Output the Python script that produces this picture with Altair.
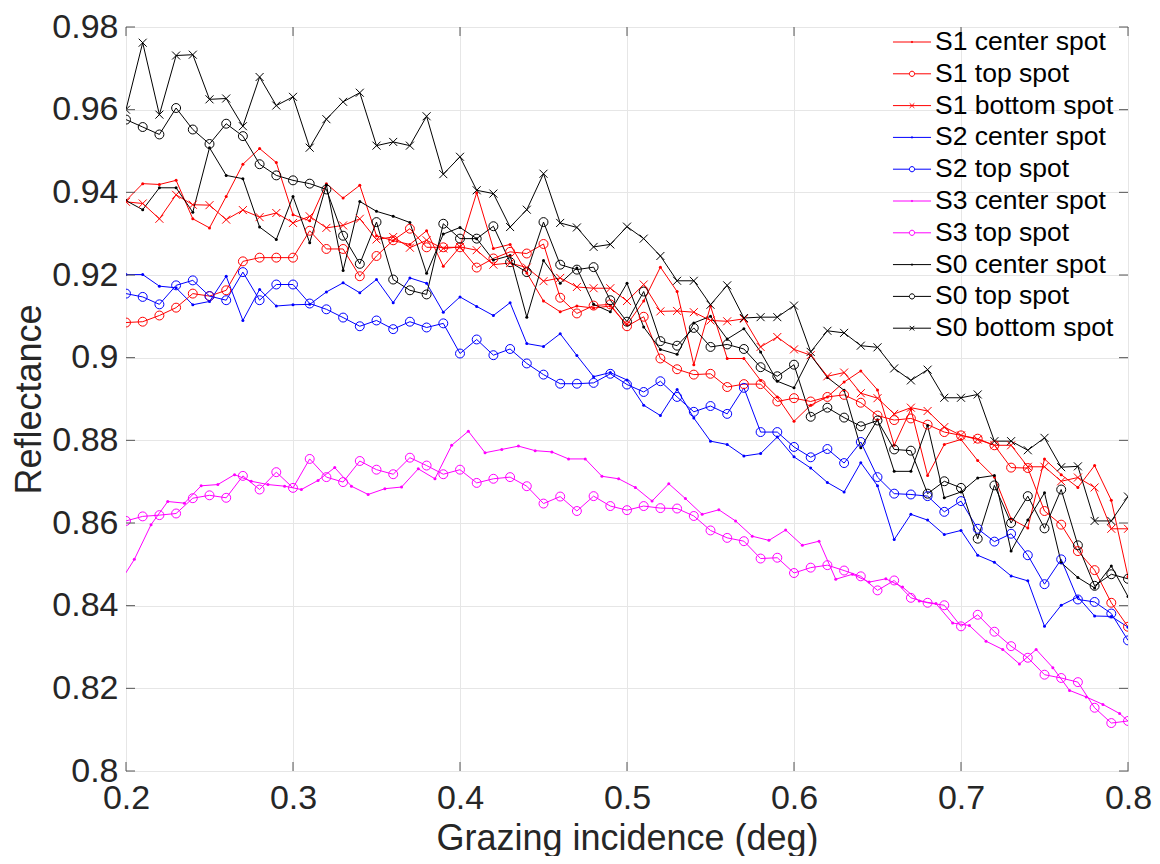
import altair as alt
import pandas as pd

# ---------------- data ----------------
x_grid = [round(0.20 + 0.01 * k, 3) for k in range(61)]
x_half = [round(0.195 + 0.01 * j, 3) for j in range(62)]

series_names = ["S1 center spot", "S1 top spot", "S1 bottom spot",
                "S2 center spot", "S2 top spot",
                "S3 center spot", "S3 top spot",
                "S0 center spot", "S0 top spot", "S0 bottom spot"]
series_colors = ["#ff0000", "#ff0000", "#ff0000",
                 "#0000ff", "#0000ff",
                 "#ff00ff", "#ff00ff",
                 "#000000", "#000000", "#000000"]
series_markers = ["dot", "circle", "x", "dot", "circle",
                  "dot", "circle", "dot", "circle", "x"]

s1_center = [0.938, 0.9421, 0.9419, 0.9429, 0.9336, 0.9314, 0.9390, 0.9468, 0.9506, 0.9472,
             0.9346, 0.9331, 0.9421, 0.9386, 0.9417, 0.9295, 0.9283, 0.9274, 0.9307, 0.9221,
             0.9268, 0.9399, 0.9264, 0.9274, 0.9205, 0.9137, 0.9111, 0.9125, 0.9120, 0.9125,
             0.9080, 0.9137, 0.9219, 0.9160, 0.8983, 0.9125, 0.8998, 0.8998, 0.8945, 0.8905,
             0.8846, 0.8885, 0.8905, 0.8941, 0.8968, 0.8922, 0.8788, 0.8875, 0.8715, 0.8790,
             0.8802, 0.8751, 0.8711, 0.8610, 0.8588, 0.8755, 0.8717, 0.8686, 0.8739, 0.8655,
             0.8470]
s1_top = [0.9085, 0.9087, 0.9102, 0.9121, 0.9155, 0.9149, 0.9163, 0.9233, 0.9242, 0.9242,
          0.9242, 0.9307, 0.9263, 0.9263, 0.9197, 0.9246, 0.9284, 0.9312, 0.9267, 0.9267,
          0.9267, 0.9218, 0.9240, 0.9256, 0.9252, 0.9275, 0.9145, 0.9107, 0.9126, 0.9129,
          0.9076, 0.9099, 0.8998, 0.8972, 0.8959, 0.8961, 0.8929, 0.8936, 0.8936, 0.8894,
          0.8902, 0.8894, 0.8905, 0.8910, 0.8891, 0.8860, 0.8849, 0.8853, 0.8838, 0.8820,
          0.8812, 0.8804, 0.8788, 0.8734, 0.8733, 0.8629, 0.8596, 0.8532, 0.8486, 0.8407,
          0.8349]
s1_bottom = [0.9377, 0.9373, 0.9336, 0.9394, 0.9370, 0.9369, 0.9334, 0.9357, 0.9340, 0.9350,
             0.9326, 0.9342, 0.9314, 0.9320, 0.9336, 0.9286, 0.9292, 0.9266, 0.9284, 0.9264,
             0.9268, 0.9260, 0.9225, 0.9229, 0.9218, 0.9185, 0.9193, 0.9171, 0.9168, 0.9168,
             0.9137, 0.9177, 0.9112, 0.9113, 0.9110, 0.9090, 0.9088, 0.9094, 0.9026, 0.9050,
             0.9020, 0.9006, 0.8955, 0.8964, 0.8914, 0.8902, 0.8864, 0.8879, 0.8871, 0.8832,
             0.8812, 0.8802, 0.8788, 0.8788, 0.8736, 0.8736, 0.8701, 0.8710, 0.8686, 0.8586,
             0.8586]
s2_center = [0.9201, 0.9201, 0.9173, 0.9169, 0.9128, 0.9136, 0.9197, 0.9090, 0.9165, 0.9125,
             0.9128, 0.9129, 0.9159, 0.9181, 0.9157, 0.9189, 0.9133, 0.9193, 0.9180, 0.9110,
             0.9147, 0.9124, 0.9102, 0.9133, 0.9034, 0.9027, 0.9058, 0.9005, 0.8954, 0.8964,
             0.8946, 0.8885, 0.8860, 0.8923, 0.8854, 0.8798, 0.8790, 0.8762, 0.8768, 0.8808,
             0.8760, 0.8733, 0.8698, 0.8675, 0.8746, 0.8690, 0.8560, 0.8621, 0.8607, 0.8572,
             0.8582, 0.8522, 0.8505, 0.8472, 0.8460, 0.8350, 0.8401, 0.8421, 0.8375, 0.8374,
             0.8348]
s2_top = [0.9155, 0.9147, 0.9129, 0.9175, 0.9187, 0.9149, 0.9139, 0.9207, 0.9139, 0.9177,
          0.9177, 0.9131, 0.9117, 0.9097, 0.9076, 0.9090, 0.9069, 0.9087, 0.9073, 0.9083,
          0.9010, 0.9044, 0.9006, 0.9021, 0.8986, 0.8959, 0.8937, 0.8937, 0.8939, 0.8961,
          0.8935, 0.8917, 0.8943, 0.8905, 0.8869, 0.8883, 0.8864, 0.8927, 0.8820, 0.8820,
          0.8784, 0.8759, 0.8779, 0.8745, 0.8796, 0.8711, 0.8671, 0.8669, 0.8665, 0.8627,
          0.8653, 0.8586, 0.8555, 0.8574, 0.8522, 0.8452, 0.8512, 0.8415, 0.8409, 0.8381,
          0.8316]
s3_center = [0.8448, 0.8512, 0.8596, 0.8652, 0.8648, 0.8690, 0.8693, 0.8717, 0.8701, 0.8693,
             0.8689, 0.8681, 0.8703, 0.8734, 0.8689, 0.8669, 0.8683, 0.8687, 0.8731, 0.8707,
             0.8788, 0.8822, 0.8770, 0.8778, 0.8786, 0.8775, 0.8772, 0.8755, 0.8755, 0.8713,
             0.8707, 0.8686, 0.8653, 0.8695, 0.8659, 0.8621, 0.8632, 0.8605, 0.8568, 0.8558,
             0.8583, 0.8546, 0.8556, 0.8464, 0.8476, 0.8457, 0.8465, 0.8445, 0.8411, 0.8405,
             0.8358, 0.8352, 0.8314, 0.8294, 0.8259, 0.8294, 0.8250, 0.8195, 0.8179, 0.8161,
             0.8139, 0.8103]
s3_top = [0.8605, 0.8616, 0.8619, 0.8623, 0.8660, 0.8667, 0.8661, 0.8714, 0.8681, 0.8723,
          0.8685, 0.8755, 0.8711, 0.8699, 0.8750, 0.8729, 0.8718, 0.8758, 0.8739, 0.8718,
          0.8729, 0.8697, 0.8707, 0.8711, 0.8689, 0.8647, 0.8664, 0.8629, 0.8665, 0.8641,
          0.8631, 0.8641, 0.8636, 0.8635, 0.8617, 0.8582, 0.8564, 0.8556, 0.8514, 0.8516,
          0.8479, 0.8492, 0.8498, 0.8485, 0.8471, 0.8437, 0.8461, 0.8419, 0.8407, 0.8401,
          0.8350, 0.8378, 0.8337, 0.8302, 0.8274, 0.8233, 0.8225, 0.8215, 0.8153, 0.8116,
          0.8121]
s0_center = [0.938, 0.9358, 0.9411, 0.9411, 0.9352, 0.9508, 0.9441, 0.9433, 0.9316, 0.9286,
             0.9390, 0.9278, 0.9418, 0.9211, 0.9378, 0.9354, 0.9342, 0.9327, 0.9204, 0.9299,
             0.9315, 0.9288, 0.9236, 0.9247, 0.9098, 0.9235, 0.9180, 0.9217, 0.9129, 0.9111,
             0.9180, 0.9074, 0.9020, 0.9008, 0.9084, 0.9100, 0.9045, 0.9070, 0.9014, 0.8943,
             0.8927, 0.9006, 0.8952, 0.8921, 0.8782, 0.8850, 0.8725, 0.8725, 0.8836, 0.8661,
             0.8675, 0.8709, 0.8715, 0.8532, 0.8607, 0.8673, 0.8504, 0.8468, 0.8443, 0.8496,
             0.8422]
s0_top = [0.9576, 0.9558, 0.9540, 0.9604, 0.9552, 0.9517, 0.9566, 0.9536, 0.9468, 0.9441,
          0.9429, 0.9421, 0.9407, 0.9295, 0.9227, 0.9328, 0.9189, 0.9163, 0.9153, 0.9324,
          0.9288, 0.9288, 0.9318, 0.9231, 0.9207, 0.9328, 0.9225, 0.9213, 0.9219, 0.9139,
          0.9087, 0.9160, 0.9040, 0.9029, 0.9072, 0.9026, 0.9032, 0.9021, 0.8977, 0.8955,
          0.8983, 0.8857, 0.8879, 0.8855, 0.8834, 0.8848, 0.8778, 0.8775, 0.8671, 0.8701,
          0.8685, 0.8562, 0.8691, 0.8600, 0.8665, 0.8587, 0.8681, 0.8546, 0.8448, 0.8476,
          0.8465]
s0_bottom = [0.960, 0.9762, 0.9588, 0.9731, 0.9733, 0.9625, 0.9627, 0.9560, 0.9679, 0.9610,
             0.9631, 0.9508, 0.9577, 0.9619, 0.9641, 0.9513, 0.9522, 0.9513, 0.9584, 0.9444,
             0.9486, 0.9405, 0.9397, 0.9316, 0.9358, 0.9445, 0.9326, 0.9315, 0.9268, 0.9274,
             0.9317, 0.9288, 0.9246, 0.9186, 0.9186, 0.9128, 0.9175, 0.9096, 0.9098, 0.9098,
             0.9126, 0.9014, 0.9065, 0.9060, 0.9029, 0.9025, 0.8974, 0.8945, 0.8971, 0.8903,
             0.8903, 0.8911, 0.8798, 0.8798, 0.8776, 0.8806, 0.8735, 0.8737, 0.8605, 0.8605,
             0.8664]

x_ticks = [0.2, 0.3, 0.4, 0.5, 0.6, 0.7, 0.8]
y_ticks = [0.8, 0.82, 0.84, 0.86, 0.88, 0.9, 0.92, 0.94, 0.96, 0.98]

# ---------------- long table ----------------
series_values = [s1_center, s1_top, s1_bottom, s2_center, s2_top,
                 s3_center, s3_top, s0_center, s0_top, s0_bottom]
rows = []
for name, ys, mk, col in zip(series_names, series_values, series_markers, series_colors):
    xs = x_half if len(ys) == len(x_half) else x_grid
    for xv, yv in zip(xs, ys):
        rows.append({"x": xv, "R": yv, "series": name, "marker": mk, "col": col})
df = pd.DataFrame(rows)

FONT = "Liberation Sans"
W, H = 1002, 744

x_scale = alt.Scale(domain=[0.2, 0.8], nice=False, zero=False)
y_scale = alt.Scale(domain=[0.8, 0.98], nice=False, zero=False)

x_axis = alt.Axis(values=x_ticks, format=".1f", title="Grazing incidence (deg)",
                  grid=True, gridColor="#e6e6e6", gridWidth=1, domain=False, ticks=False,
                  labelFlush=False, labelOverlap=False,
                  labelFont=FONT, labelFontSize=34, labelColor="#262626", labelPadding=10,
                  titleFont=FONT, titleFontSize=36, titleFontWeight="normal",
                  titleColor="#262626", titlePadding=6)
y_axis = alt.Axis(values=y_ticks, format=".2~f", title="Reflectance",
                  grid=True, gridColor="#e6e6e6", gridWidth=1, domain=False, ticks=False,
                  labelFlush=False, labelOverlap=False,
                  labelFont=FONT, labelFontSize=34, labelColor="#262626", labelPadding=8,
                  titleFont=FONT, titleFontSize=36, titleFontWeight="normal",
                  titleColor="#262626", titlePadding=3)


def X(field):
    return alt.X(field, scale=x_scale, axis=x_axis)


def Y(field):
    return alt.Y(field, scale=y_scale, axis=y_axis)


base = alt.Chart(df).encode(
    x=X("x:Q"), y=Y("R:Q"),
    color=alt.Color("col:N", scale=None),
    detail="series:N",
)

lines = base.mark_line(strokeWidth=1, clip=True)
dots = base.transform_filter(alt.datum.marker == "dot").mark_point(
    shape="circle", filled=True, size=9, opacity=1, clip=True)
circles = base.transform_filter(alt.datum.marker == "circle").mark_point(
    shape="circle", filled=False, size=80, strokeWidth=1, opacity=1, clip=True)
crosses = base.transform_filter(alt.datum.marker == "x").mark_point(
    shape="M-1,-1L1,1M-1,1L1,-1", filled=False, size=64, strokeWidth=1, opacity=1, clip=True)

# legend symbols: a short line with the series' marker in the middle
p_dot = "M-1.24,0H1.24M0.05,0A0.05,0.05 0 1,1 -0.05,0A0.05,0.05 0 1,1 0.05,0"
p_circ = "M-1.24,0H-0.17M0.17,0H1.24M0.17,0A0.17,0.17 0 1,1 -0.17,0A0.17,0.17 0 1,1 0.17,0"
p_x = "M-1.24,0H1.24M-0.15,-0.15L0.15,0.15M-0.15,0.15L0.15,-0.15"
legend_paths = [{"dot": p_dot, "circle": p_circ, "x": p_x}[m] for m in series_markers]

leg = alt.Legend(title=None, orient="none", legendX=770, legendY=-1,
                 labelFont=FONT, labelFontSize=26.5, labelColor="#000000", labelLimit=400,
                 symbolSize=942, symbolStrokeWidth=1, labelOffset=7,
                 rowPadding=1.8, padding=0, symbolFillColor="transparent")
legend_layer = alt.Chart(df).transform_filter("false").mark_point(
    filled=False, strokeWidth=1, opacity=1).encode(
    x=X("x:Q"), y=Y("R:Q"),
    color=alt.Color("series:N", scale=alt.Scale(domain=series_names, range=series_colors),
                    legend=leg),
    shape=alt.Shape("series:N", scale=alt.Scale(domain=series_names, range=legend_paths),
                    legend=leg),
)

# inside tick marks on all four sides (MATLAB box style)
xt = pd.DataFrame({"t": x_ticks})
yt = pd.DataFrame({"t": y_ticks})
TICK = "#555555"
tick_b = alt.Chart(xt).mark_rule(color=TICK, strokeWidth=1).encode(
    x=X("t:Q"), y=alt.value(H), y2=alt.value(H - 9))
tick_t = alt.Chart(xt).mark_rule(color=TICK, strokeWidth=1).encode(
    x=X("t:Q"), y=alt.value(0), y2=alt.value(9))
tick_l = alt.Chart(yt).mark_rule(color=TICK, strokeWidth=1).encode(
    y=Y("t:Q"), x=alt.value(0), x2=alt.value(9))
tick_r = alt.Chart(yt).mark_rule(color=TICK, strokeWidth=1).encode(
    y=Y("t:Q"), x=alt.value(W), x2=alt.value(W - 9))

chart = alt.layer(lines, dots, circles, crosses, legend_layer,
                  tick_b, tick_t, tick_l, tick_r).properties(
    width=W, height=H,
    padding={"left": 118, "top": 19, "right": 24, "bottom": 85},
    autosize=alt.AutoSizeParams(type="none"),
    background="white",
).configure_view(stroke="#555555", strokeWidth=1)

chart.save("out.html", embed_options={"renderer": "svg", "actions": False})
